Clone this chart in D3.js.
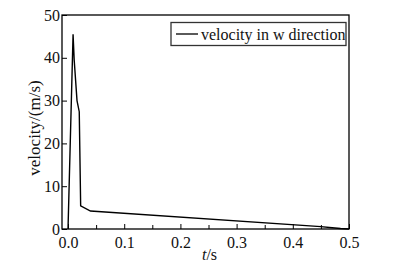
<!DOCTYPE html>
<html>
<head>
<meta charset="utf-8">
<script src="https://cdn.jsdelivr.net/npm/d3@7"></script>
<style>
  body { margin: 0; background: #fff; }
  text { font-family: "Liberation Serif", "Times New Roman", serif; fill: #111; }
</style>
</head>
<body>
<svg id="chart" width="398" height="272"></svg>
<script>
// velocity in w direction
var tData = [0.0, 0.009, 0.011, 0.016, 0.020, 0.0225, 0.04, 0.45, 0.47, 0.485, 0.5];
var wData = [0.0, 45.5, 39.5, 30.0, 27.4, 5.4, 4.2, 0.55, 0.3, 0.12, 0.0];
var xTicks = [0.0, 0.1, 0.2, 0.3, 0.4, 0.5];
var xMinor = [0.05, 0.15, 0.25, 0.35, 0.45];
var yTicks = [0, 10, 20, 30, 40, 50];
var legendLabel = "velocity in w direction";

var svg = d3.select("#chart");
var margin = {left: 62, top: 15, right: 49, bottom: 43};
var width = 398 - margin.left - margin.right,
    height = 272 - margin.top - margin.bottom;

var x = d3.scaleLinear().domain([-0.0107, 0.5]).range([0, width]);
var y = d3.scaleLinear().domain([0, 50]).range([height, 0]);

var g = svg.append("g").attr("transform", "translate(" + margin.left + "," + margin.top + ")");

// bottom axis, ticks inside
var xAxis = g.append("g")
    .attr("transform", "translate(0," + height + ")")
    .call(d3.axisBottom(x).tickValues(xTicks).tickSizeInner(-5).tickSizeOuter(0)
        .tickPadding(8).tickFormat(d3.format(".1f")));
xAxis.select(".domain").remove();
xAxis.selectAll("text").style("font-size", "16px");

g.append("g")
    .attr("transform", "translate(0," + height + ")")
    .call(d3.axisBottom(x).tickValues(xMinor).tickSizeInner(-4).tickSizeOuter(0).tickFormat(""))
    .select(".domain").remove();

var yAxis = g.append("g")
    .call(d3.axisLeft(y).tickValues(yTicks).tickSizeInner(-5).tickSizeOuter(0).tickPadding(2));
yAxis.select(".domain").remove();
yAxis.selectAll("text").style("font-size", "16px");

// frame
g.append("rect")
    .attr("width", width).attr("height", height)
    .attr("fill", "none").attr("stroke", "#000").attr("stroke-width", 1.3);

// line
var line = d3.line()
    .x(function(d, i) { return x(tData[i]); })
    .y(function(d) { return y(d); });

g.append("path")
    .datum(wData)
    .attr("fill", "none")
    .attr("stroke", "#000")
    .attr("stroke-width", 1.4)
    .attr("d", line);

// legend
var lg = g.append("g").attr("transform", "translate(109,7.5)");
lg.append("rect")
    .attr("width", 175).attr("height", 23)
    .attr("fill", "#fff").attr("stroke", "#333").attr("stroke-width", 1.3);
lg.append("line")
    .attr("x1", 5).attr("x2", 27).attr("y1", 11.5).attr("y2", 11.5)
    .attr("stroke", "#000").attr("stroke-width", 1.3);
lg.append("text")
    .attr("x", 30).attr("y", 17)
    .style("font-size", "16px")
    .text(legendLabel);

// axis titles
var xt = svg.append("text")
    .attr("x", margin.left + width / 2 + 4).attr("y", 260)
    .attr("text-anchor", "middle")
    .style("font-size", "16px");
xt.append("tspan").style("font-style", "italic").text("t");
xt.append("tspan").text("/s");

svg.append("text")
    .attr("transform", "translate(40," + 128 + ") rotate(-90)")
    .attr("text-anchor", "middle")
    .style("font-size", "17px")
    .text("velocity/(m/s)");
</script>
</body>
</html>
